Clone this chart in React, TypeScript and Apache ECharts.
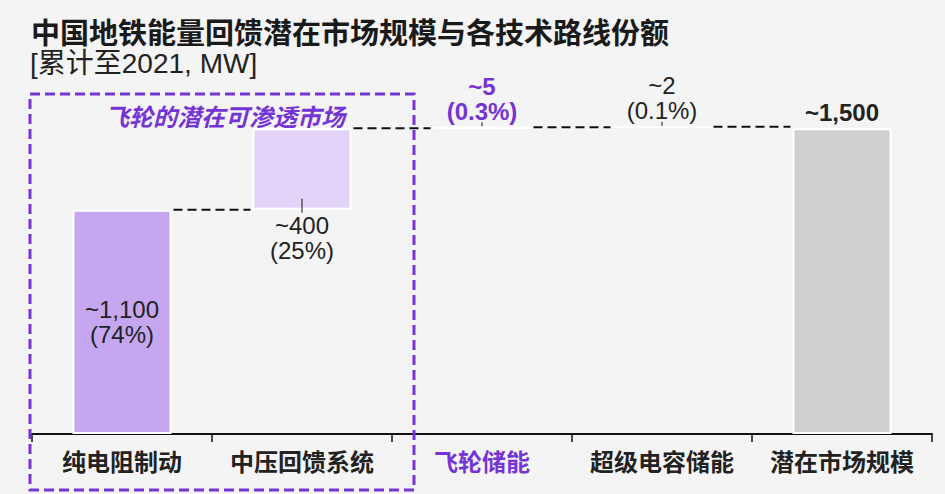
import React, { useEffect, useRef } from "react";
import * as echarts from "echarts";

const categories = ["纯电阻制动", "中压回馈系统", "飞轮储能", "超级电容储能", "潜在市场规模"];
const values = [1100, 400, 5, 2, 1500];
const isTotal = [false, false, false, false, true];
const valueLabels = ["~1,100", "~400", "~5", "~2", "~1,500"];
const shareLabels = ["74%", "25%", "0.3%", "0.1%", ""];
const labelPlacement = ["inside", "below", "above", "above", "above"];
const highlighted = [false, false, true, false, false];
const boxTitle = "飞轮的潜在可渗透市场";
const chartTitle = "中国地铁能量回馈潜在市场规模与各技术路线份额";
const chartSubtitle = "[累计至2021, MW]";

const PURPLE = "#7434d6";
const DARK = "#222222";
const FONT = "'Liberation Sans', 'Noto Sans CJK SC', sans-serif";
const barColors = ["#c5a7ef", "#e4d3f9", "#c5a7ef", "#c5a7ef", "#d0d0d0"];

export default function App() {
  const ref = useRef<HTMLDivElement>(null);
  useEffect(() => {
    if (!ref.current) return;
    const chart = echarts.init(ref.current, undefined, { renderer: "svg" });

    // waterfall bases
    const bases: number[] = [];
    const tops: number[] = [];
    let run = 0;
    values.forEach((v, i) => {
      if (isTotal[i]) {
        bases.push(0);
        tops.push(v);
      } else {
        bases.push(run);
        run += v;
        tops.push(run);
      }
    });

    const barData = values.map((v, i) => {
      const place = labelPlacement[i];
      const text = shareLabels[i] ? `${valueLabels[i]}\n(${shareLabels[i]})` : valueLabels[i];
      const bold = highlighted[i] || isTotal[i];
      return {
        value: v,
        itemStyle: { color: barColors[i] },
        label: {
          show: true,
          position: place === "inside" ? "inside" : place === "below" ? "bottom" : "top",
          distance: 3,
          formatter: text,
          fontSize: 24,
          lineHeight: 25,
          fontWeight: bold ? "bold" : "normal",
          color: highlighted[i] ? PURPLE : DARK,
          fontFamily: FONT,
        },
      };
    });

    const connectorData = values.slice(0, values.length - 1).map((_, i) => [i, tops[i]]);
    const leaderData: number[][] = [];
    values.forEach((_, i) => {
      if (labelPlacement[i] === "below") leaderData.push([i, bases[i], 1]);
      else if (labelPlacement[i] === "above" && !isTotal[i]) leaderData.push([i, tops[i], 0]);
    });

    chart.setOption({
      animation: false,
      backgroundColor: "#f4f4f4",
      grid: { left: 32, right: 13, top: 116, bottom: 60 },
      xAxis: {
        type: "category",
        data: categories.map((c, i) => ({
          value: c,
          textStyle: { color: highlighted[i] ? PURPLE : DARK },
        })),
        axisLine: { lineStyle: { color: "#111", width: 2 } },
        axisTick: { show: true, interval: 0, length: 8, lineStyle: { color: "#111", width: 1.5 } },
        axisLabel: {
          interval: 0,
          fontSize: 24,
          fontWeight: "bold",
          fontFamily: FONT,
          margin: 16,
        },
      },
      yAxis: { type: "value", min: 0, max: 1560, show: false, splitLine: { show: false } },
      series: [
        {
          type: "bar",
          stack: "w",
          data: bases,
          barWidth: "55%",
          itemStyle: { color: "transparent" },
          silent: true,
        },
        {
          type: "bar",
          stack: "w",
          data: barData,
          barWidth: "55%",
          itemStyle: { borderColor: "#ffffff", borderWidth: 2 },
        },
        {
          type: "custom",
          z: 5,
          data: connectorData,
          encode: { x: 0, y: 1 },
          renderItem: (params: any, api: any) => {
            const i = api.value(0);
            const lvl = api.value(1);
            const half = (api.size([1, 0])[0] * 0.55) / 2;
            const a = api.coord([i, lvl]);
            const b = api.coord([i + 1, lvl]);
            return {
              type: "line",
              shape: { x1: a[0] + half + 2, y1: a[1], x2: b[0] - half - 2, y2: a[1] },
              style: { stroke: "#111", lineWidth: 2, lineDash: [9, 5] },
            };
          },
        },
        {
          type: "custom",
          z: 6,
          data: leaderData,
          encode: { x: 0, y: 1 },
          renderItem: (params: any, api: any) => {
            const i = api.value(0);
            const lvl = api.value(1);
            const below = api.value(2) === 1;
            const p = api.coord([i, lvl]);
            return {
              type: "line",
              shape: below
                ? { x1: p[0], y1: p[1] - 11, x2: p[0], y2: p[1] + 3 }
                : { x1: p[0], y1: p[1] - 5, x2: p[0], y2: p[1] - 1 },
              style: { stroke: "#111", lineWidth: 1 },
            };
          },
        },
      ],
      graphic: [
        {
          type: "text",
          left: 31,
          top: 19,
          style: {
            text: chartTitle,
            font: `bold 29px ${FONT}`,
            fill: "#1a1a1a",
          },
        },
        {
          type: "text",
          left: 30,
          top: 49,
          style: {
            text: chartSubtitle,
            font: `normal 28px ${FONT}`,
            fill: DARK,
          },
        },
        {
          type: "rect",
          shape: { x: 30, y: 94, width: 384, height: 396 },
          style: { fill: "none", stroke: PURPLE, lineWidth: 3, lineDash: [10, 5] },
          z: 10,
        },
        {
          type: "text",
          x: 225,
          y: 117,
          style: {
            text: boxTitle,
            font: `italic bold 24px ${FONT}`,
            fill: PURPLE,
            align: "center",
            verticalAlign: "middle",
          },
          z: 10,
        },
      ],
    });
    return () => chart.dispose();
  }, []);
  return (
    <div
      ref={ref}
      style={{ position: "fixed", left: 0, top: 0, width: 945, height: 494 }}
    />
  );
}
